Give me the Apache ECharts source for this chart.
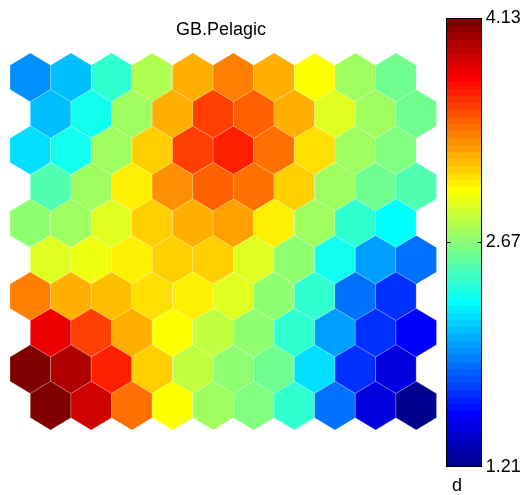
<!DOCTYPE html>
<html>
<head>
<meta charset="utf-8">
<style>
  html, body { margin: 0; padding: 0; background: #fff; }
  #chart { width: 529px; height: 495px; }
</style>
<script src="https://cdn.jsdelivr.net/npm/echarts@6/dist/echarts.min.js"></script>
</head>
<body>
<div id="chart"></div>
<script>
// Component plane "GB.Pelagic" of a 10 x 10 hexagonal SOM.
// Rows run top to bottom; odd rows are shifted half a cell to the right.
const title = 'GB.Pelagic';
const colorbarLabel = 'd';
const vMin = 1.21;
const vMax = 4.13;
const tickValues = [1.21, 2.67, 4.13];

const row0 = [1.94, 2.08, 2.40, 2.79, 3.26, 3.36, 3.22, 2.99, 2.76, 2.58];
const row1 = [2.08, 2.31, 2.76, 3.26, 3.54, 3.49, 3.26, 2.94, 2.72, 2.58];
const row2 = [2.17, 2.35, 2.72, 3.17, 3.54, 3.63, 3.40, 3.10, 2.76, 2.65];
const row3 = [2.49, 2.72, 3.04, 3.31, 3.49, 3.40, 3.14, 2.76, 2.58, 2.49];
const row4 = [2.67, 2.76, 2.94, 3.14, 3.26, 3.28, 3.04, 2.76, 2.44, 2.26];
const row5 = [2.94, 2.96, 3.04, 3.14, 3.14, 2.94, 2.70, 2.31, 1.99, 1.89];
const row6 = [3.36, 3.26, 3.20, 3.10, 3.04, 2.90, 2.70, 2.40, 1.89, 1.67];
const row7 = [3.81, 3.58, 3.26, 2.99, 2.81, 2.70, 2.44, 2.03, 1.67, 1.53];
const row8 = [4.13, 3.99, 3.63, 3.13, 2.85, 2.67, 2.58, 2.21, 1.71, 1.48];
const row9 = [4.13, 3.90, 3.40, 2.99, 2.76, 2.64, 2.40, 1.89, 1.44, 1.21];
const rows = [row0, row1, row2, row3, row4, row5, row6, row7, row8, row9];

// 64-step jet colormap
function buildJet(m) {
  const n = Math.ceil(m / 4);
  const u = [];
  for (let i = 1; i <= n; i++) u.push(i / n);
  for (let i = 1; i < n; i++) u.push(1);
  for (let i = n; i >= 1; i--) u.push(i / n);
  const off = Math.ceil(n / 2) - (m % 4 === 1 ? 1 : 0);
  const R = new Array(m).fill(0), G = new Array(m).fill(0), B = new Array(m).fill(0);
  for (let k = 0; k < u.length; k++) {
    const g = off + k + 1, r = g + n, b = g - n;
    if (g >= 1 && g <= m) G[g - 1] = u[k];
    if (r >= 1 && r <= m) R[r - 1] = u[k];
    if (b >= 1 && b <= m) B[b - 1] = u[k];
  }
  const out = [];
  for (let i = 0; i < m; i++) {
    out.push('rgb(' + Math.round(R[i] * 255) + ',' + Math.round(G[i] * 255) + ',' + Math.round(B[i] * 255) + ')');
  }
  return out;
}
const LEVELS = 64;
const jet = buildJet(LEVELS);
function colorOf(v) {
  let idx = Math.floor((v - vMin) / (vMax - vMin) * LEVELS);
  return jet[Math.max(0, Math.min(LEVELS - 1, idx))];
}

const hexData = [];
rows.forEach((vals, r) => vals.forEach((v, c) => hexData.push([c, r, v])));

const bandData = [];
for (let i = 0; i < LEVELS; i++) bandData.push([i]);

const chart = echarts.init(document.getElementById('chart'), null, { renderer: 'canvas' });
const font = '"Liberation Sans", Arial, Helvetica, sans-serif';

chart.setOption({
  animation: false,
  backgroundColor: '#fff',
  title: {
    text: title,
    left: 221,
    top: 21,
    padding: 0,
    textAlign: 'center',
    textStyle: { fontFamily: font, fontSize: 18, fontWeight: 'normal', color: '#000' }
  },
  grid: [
    { left: 10, top: 53, width: 426.5, height: 377 },
    { left: 446.7, top: 18.3, width: 35, height: 448.4 }
  ],
  xAxis: [
    { gridIndex: 0, type: 'value', min: -0.5, max: 10, show: false },
    { gridIndex: 1, type: 'value', min: 0, max: 1, z: 5, position: 'bottom',
      axisLine: { show: true, onZero: false, lineStyle: { color: '#000', width: 1 } },
      axisTick: { show: false }, axisLabel: { show: false }, splitLine: { show: false } },
    { gridIndex: 1, type: 'value', min: 0, max: 1, z: 5, position: 'top',
      axisLine: { show: true, onZero: false, lineStyle: { color: '#000', width: 1 } },
      axisTick: { show: false }, axisLabel: { show: false }, splitLine: { show: false } }
  ],
  yAxis: [
    { gridIndex: 0, type: 'value', min: -2 / 3, max: 9 + 2 / 3, inverse: true, show: false },
    { gridIndex: 1, type: 'value', min: vMin, max: vMax, position: 'right', z: 5,
      axisLine: { show: true, onZero: false, lineStyle: { color: '#000', width: 1 } },
      axisTick: { show: true, inside: true, length: 4, customValues: tickValues, lineStyle: { color: '#000' } },
      axisLabel: { show: true, customValues: tickValues, margin: 4, color: '#000',
        fontFamily: font, fontSize: 18, formatter: v => v.toFixed(2) },
      splitLine: { show: false } },
    { gridIndex: 1, type: 'value', min: vMin, max: vMax, position: 'left', z: 5,
      axisLine: { show: true, onZero: false, lineStyle: { color: '#000', width: 1 } },
      axisTick: { show: true, inside: true, length: 4, customValues: tickValues, lineStyle: { color: '#000' } },
      axisLabel: { show: false }, splitLine: { show: false } }
  ],
  series: [
    {
      type: 'custom',
      xAxisIndex: 0,
      yAxisIndex: 0,
      data: hexData,
      renderItem: function (params, api) {
        const c = api.value(0), r = api.value(1), v = api.value(2);
        const cx = c + (r % 2 === 1 ? 0.5 : 0);
        const cy = r;
        const pts = [
          [cx, cy - 2 / 3], [cx + 0.5, cy - 1 / 3], [cx + 0.5, cy + 1 / 3],
          [cx, cy + 2 / 3], [cx - 0.5, cy + 1 / 3], [cx - 0.5, cy - 1 / 3]
        ].map(p => api.coord(p));
        return {
          type: 'polygon',
          shape: { points: pts },
          style: { fill: colorOf(v), stroke: 'rgba(255,255,255,0.35)', lineWidth: 0.6 }
        };
      }
    },
    {
      type: 'custom',
      xAxisIndex: 1,
      yAxisIndex: 1,
      z: 1,
      data: bandData,
      renderItem: function (params, api) {
        const i = api.value(0);
        const step = (vMax - vMin) / LEVELS;
        const lo = vMin + i * step, hi = lo + step;
        const p0 = api.coord([0, hi]);
        const p1 = api.coord([1, lo]);
        return {
          type: 'rect',
          shape: { x: p0[0], y: Math.floor(p0[1]), width: p1[0] - p0[0], height: Math.ceil(p1[1]) - Math.floor(p0[1]) },
          style: { fill: jet[i] }
        };
      }
    }
  ],
  graphic: [
    { type: 'text', left: 452, top: 477,
      style: { text: colorbarLabel, font: '18px ' + font, fill: '#000' } }
  ]
});
</script>
</body>
</html>
